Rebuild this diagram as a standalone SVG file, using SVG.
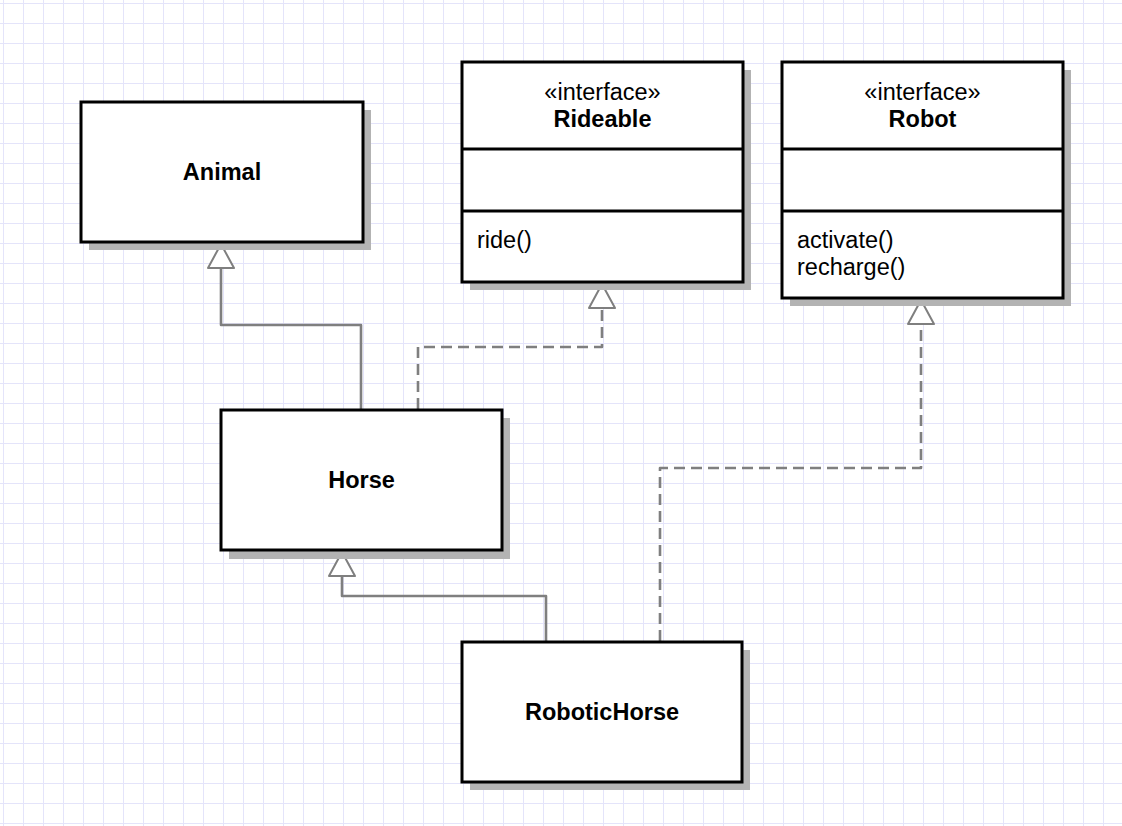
<svg xmlns="http://www.w3.org/2000/svg" width="1122" height="826" viewBox="0 0 1122 826">
<style>
.box{fill:#ffffff;stroke:#000000;stroke-width:3}
.shadow{fill:#b3b3b3;stroke:none}
.shline{stroke:#b3b3b3;stroke-width:1.5}
.div{stroke:#000000;stroke-width:3}
.t{font-family:"Liberation Sans",Arial,sans-serif;font-size:23.5px;fill:#000000}
.b{font-weight:bold}
.c{text-anchor:middle}
.conn{fill:none;stroke:#7f7f7f;stroke-width:2.6;stroke-linejoin:round}
.dash{stroke-dasharray:11 6}
</style>
<defs>
<pattern id="grid" x="3" y="3" width="20" height="20" patternUnits="userSpaceOnUse">
<path d="M0.5,0 V20 M0,0.5 H20" stroke="#e4e4fa" stroke-width="1" fill="none"/>
</pattern>
<marker id="tri" markerUnits="userSpaceOnUse" markerWidth="30" markerHeight="30" refX="25" refY="14" orient="auto" overflow="visible">
<path d="M1,1 L25,14 L1,27 Z" fill="#ffffff" stroke="#7f7f7f" stroke-width="2" stroke-linejoin="round"/>
</marker>
</defs>
<rect width="1122" height="826" fill="#ffffff"/>
<rect width="1122" height="826" fill="url(#grid)"/>

<g id="connectors">
<path class="conn" d="M361,409 V325 H221 V244" marker-end="url(#tri)"/>
<path class="conn dash" d="M418,409 V347 H602 V284" marker-end="url(#tri)"/>
<path class="conn" d="M546,641 V596 H342 V552" marker-end="url(#tri)"/>
<path class="conn dash" d="M660,641 V468 H921 V300" marker-end="url(#tri)"/>
</g>

<g id="Animal">
<rect class="shadow" x="89" y="110" width="282" height="140"/>
<rect class="box" x="81" y="102" width="282" height="140"/>
<text class="t b c" x="222" y="180">Animal</text>
</g>

<g id="Rideable">
<rect class="shadow" x="470" y="70" width="281" height="220"/>
<line class="shline" x1="470" y1="157" x2="751" y2="157"/>
<line class="shline" x1="470" y1="219" x2="751" y2="219"/>
<rect class="box" x="462" y="62" width="281" height="220"/>
<line class="div" x1="462" y1="149" x2="743" y2="149"/>
<line class="div" x1="462" y1="211" x2="743" y2="211"/>
<text class="t c" x="602.5" y="100">«interface»</text>
<text class="t b c" x="602.5" y="127">Rideable</text>
<text class="t" x="477" y="248">ride()</text>
</g>

<g id="Robot">
<rect class="shadow" x="790" y="70" width="281" height="236"/>
<line class="shline" x1="790" y1="157" x2="1071" y2="157"/>
<line class="shline" x1="790" y1="219" x2="1071" y2="219"/>
<rect class="box" x="782" y="62" width="281" height="236"/>
<line class="div" x1="782" y1="149" x2="1063" y2="149"/>
<line class="div" x1="782" y1="211" x2="1063" y2="211"/>
<text class="t c" x="922.5" y="100">«interface»</text>
<text class="t b c" x="922.5" y="127">Robot</text>
<text class="t" x="797" y="248">activate()</text>
<text class="t" x="797" y="275">recharge()</text>
</g>

<g id="Horse">
<rect class="shadow" x="229" y="418" width="281" height="141"/>
<rect class="box" x="221" y="410" width="281" height="140"/>
<text class="t b c" x="361.5" y="488">Horse</text>
</g>

<g id="RoboticHorse">
<rect class="shadow" x="470" y="650" width="280" height="140"/>
<rect class="box" x="462" y="642" width="280" height="140"/>
<text class="t b c" x="602" y="720">RoboticHorse</text>
</g>
</svg>
